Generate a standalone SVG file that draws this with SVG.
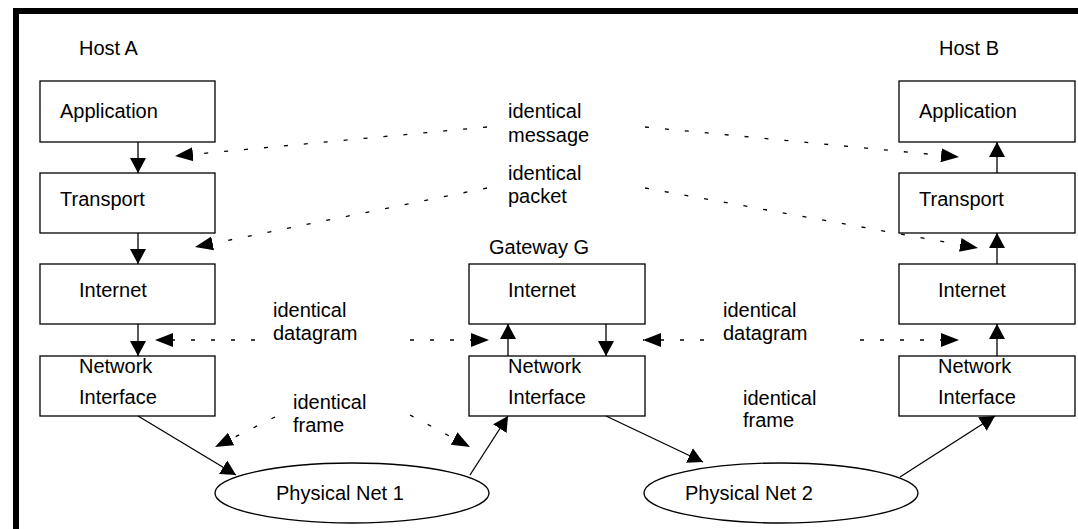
<svg xmlns="http://www.w3.org/2000/svg" width="1078" height="529" viewBox="0 0 1078 529">
<style>
text{font-family:"Liberation Sans",Arial,sans-serif;font-size:20px;fill:#000}
.box{fill:#fff;stroke:#000;stroke-width:1.3}
.ell{fill:#fff;stroke:#000;stroke-width:1.3}
.solid{stroke:#000;stroke-width:1.3;fill:none}
.dash{stroke:#000;stroke-width:1.3;fill:none;stroke-dasharray:4 16}
</style>
<defs>
<marker id="ah" markerUnits="userSpaceOnUse" markerWidth="16" markerHeight="18" refX="15" refY="8" orient="auto" viewBox="0 0 16 16">
<path d="M0,0 L15,8 L0,16 Z" fill="#000"/>
</marker>
<marker id="dh" markerUnits="userSpaceOnUse" markerWidth="19" markerHeight="16" refX="18" refY="7" orient="auto" viewBox="0 0 19 14">
<path d="M0,0 L18,7 L0,14 Z" fill="#000"/>
</marker>
</defs>
<rect width="1078" height="529" fill="#fff"/>
<rect x="13" y="8" width="1065" height="6" fill="#000"/>
<rect x="13" y="8" width="6" height="521" fill="#000"/>

<g id="hostA">
<text x="79" y="55">Host A</text>
<g id="a-app"><rect class="box" x="40" y="81" width="175" height="61"/><text x="60" y="118">Application</text></g>
<g id="a-trans"><rect class="box" x="40" y="173" width="175" height="60"/><text x="60" y="206">Transport</text></g>
<g id="a-inet"><rect class="box" x="40" y="264" width="175" height="60"/><text x="79" y="297">Internet</text></g>
<g id="a-ni"><rect class="box" x="40" y="356" width="175" height="60"/><text x="79" y="373">Network</text><text x="79" y="404">Interface</text></g>
</g>

<g id="gateway">
<text x="489" y="254">Gateway G</text>
<g id="g-inet"><rect class="box" x="469" y="264" width="176" height="60"/><text x="508" y="297">Internet</text></g>
<g id="g-ni"><rect class="box" x="469" y="356" width="176" height="60"/><text x="508" y="373">Network</text><text x="508" y="404">Interface</text></g>
</g>

<g id="hostB">
<text x="939" y="55">Host B</text>
<g id="b-app"><rect class="box" x="899" y="81" width="176" height="61"/><text x="919" y="118">Application</text></g>
<g id="b-trans"><rect class="box" x="899" y="173" width="176" height="60"/><text x="919" y="206">Transport</text></g>
<g id="b-inet"><rect class="box" x="899" y="264" width="176" height="60"/><text x="938" y="297">Internet</text></g>
<g id="b-ni"><rect class="box" x="899" y="356" width="176" height="60"/><text x="938" y="373">Network</text><text x="938" y="404">Interface</text></g>
</g>

<g id="net1"><ellipse class="ell" cx="352" cy="493" rx="137" ry="30"/><text x="276" y="500">Physical Net 1</text></g>
<g id="net2"><ellipse class="ell" cx="781" cy="493" rx="137" ry="30"/><text x="685" y="500">Physical Net 2</text></g>

<g id="labels">
<text x="508" y="118">identical</text><text x="508" y="142">message</text>
<text x="508" y="180">identical</text><text x="508" y="203">packet</text>
<text x="273" y="317">identical</text><text x="273" y="340">datagram</text>
<text x="723" y="317">identical</text><text x="723" y="340">datagram</text>
<text x="293" y="409">identical</text><text x="293" y="432">frame</text>
<text x="743" y="405">identical</text><text x="743" y="427">frame</text>
</g>

<g id="connectors">
<line class="solid" x1="138" y1="142" x2="138" y2="173" marker-end="url(#ah)"/>
<line class="solid" x1="138" y1="233" x2="138" y2="264" marker-end="url(#ah)"/>
<line class="solid" x1="138" y1="324" x2="138" y2="356" marker-end="url(#ah)"/>
<line class="solid" x1="508" y1="356" x2="508" y2="324" marker-end="url(#ah)"/>
<line class="solid" x1="606" y1="324" x2="606" y2="356" marker-end="url(#ah)"/>
<line class="solid" x1="997" y1="173" x2="997" y2="142" marker-end="url(#ah)"/>
<line class="solid" x1="997" y1="264" x2="997" y2="233" marker-end="url(#ah)"/>
<line class="solid" x1="997" y1="356" x2="997" y2="324" marker-end="url(#ah)"/>
<line class="solid" x1="138" y1="416" x2="236" y2="475" marker-end="url(#ah)"/>
<line class="solid" x1="470" y1="475" x2="508" y2="416" marker-end="url(#ah)"/>
<line class="solid" x1="606" y1="416" x2="703" y2="462" marker-end="url(#ah)"/>
<line class="solid" x1="900" y1="477" x2="995" y2="416" marker-end="url(#ah)"/>

<line class="dash" x1="487" y1="127" x2="175" y2="156" marker-end="url(#dh)"/>
<line class="dash" x1="645" y1="127" x2="959" y2="157" marker-end="url(#dh)"/>
<line class="dash" x1="487" y1="188" x2="195" y2="247" marker-end="url(#dh)"/>
<line class="dash" x1="645" y1="188" x2="978" y2="248" marker-end="url(#dh)"/>
<line class="dash" x1="255" y1="340" x2="155" y2="340" marker-end="url(#dh)"/>
<line class="dash" x1="410" y1="340" x2="489" y2="340" marker-end="url(#dh)"/>
<line class="dash" x1="704" y1="340" x2="643" y2="340" marker-end="url(#dh)"/>
<line class="dash" x1="860" y1="340" x2="959" y2="340" marker-end="url(#dh)"/>
<line class="dash" x1="275" y1="417" x2="215" y2="447" marker-end="url(#dh)"/>
<line class="dash" x1="410" y1="415" x2="470" y2="447" marker-end="url(#dh)"/>
</g>
</svg>
